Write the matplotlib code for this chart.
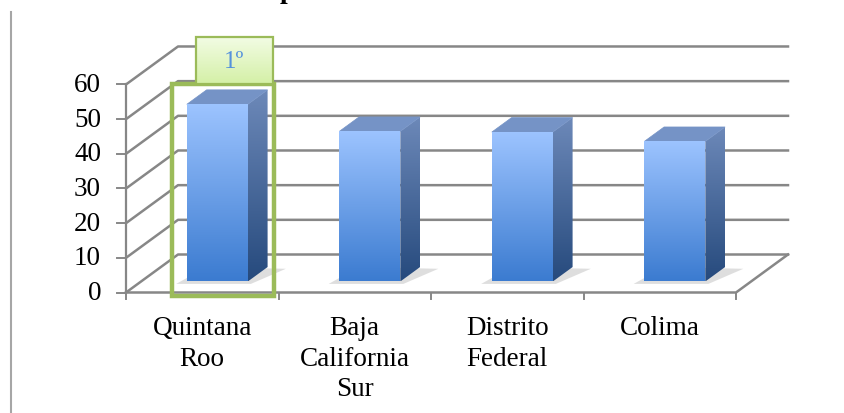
import numpy as np
import matplotlib
matplotlib.use("Agg")
import matplotlib.pyplot as plt
from matplotlib.patches import Polygon, Rectangle
from matplotlib.colors import LinearSegmentedColormap

# data
categories = ["Quintana\nRoo", "Baja\nCalifornia\nSur", "Distrito\nFederal", "Colima"]
values = [51.1, 43.3, 43.1, 40.4]
y_ticks = [0, 10, 20, 30, 40, 50, 60]
rank_label = "1\u00ba"
title_text = "p"   # only the bottom of the title shows in the picture

# layout (pixels of an 844x414 canvas)
W, H = 844, 414
X0, CAT_W = 126, 152.5          # x of the front axis, width of one category
Y0, UNIT = 293.5, 3.467         # y of value 0 (from top), pixels per unit
DX, DY = 52 / CAT_W, 38 / UNIT  # depth of the floor, in data units
BW, T0, BD = 0.40, 0.29, 0.38   # bar width, bar front depth, bar depth
GRID = "#878787"
SERIF = "Liberation Serif"

fig = plt.figure(figsize=(W / 100, H / 100), dpi=100)
ax = fig.add_axes([0, 0, 1, 1])
ax.axis("off")


def px(x):
    return (x - X0) / CAT_W


def py(y):
    return (Y0 - y) / UNIT


def grad_fill(pts, top, bottom, z):
    pts = np.asarray(pts)
    poly = Polygon(pts, closed=True, facecolor="none", edgecolor="none")
    ax.add_patch(poly)
    cmap = LinearSegmentedColormap.from_list("g", [bottom, top])
    im = ax.imshow(np.linspace(0, 1, 256).reshape(-1, 1), cmap=cmap,
                   extent=[pts[:, 0].min(), pts[:, 0].max(), pts[:, 1].min(), pts[:, 1].max()],
                   origin="lower", aspect="auto", zorder=z, interpolation="bilinear")
    im.set_clip_path(poly)


n = len(categories)
top_v = y_ticks[-1]

# walls and floor
ax.plot([0, 0], [0, top_v], color=GRID, lw=1.6, zorder=1)
for v in y_ticks:
    ax.plot([0, DX, n + DX], [v, v + DY, v + DY], color=GRID, lw=1.8, zorder=1)
    ax.plot([-9 / CAT_W, 0], [v, v], color=GRID, lw=1.4, zorder=1)
    ax.text(-25 / CAT_W, v, str(v), ha="right", va="center", fontsize=19.5,
            family=SERIF, color="black")
ax.plot([0, n, n + DX], [0, 0, DY], color=GRID, lw=1.8, zorder=5)
for i in range(n + 1):
    ax.plot([i, i], [0, -6 / UNIT], color=GRID, lw=1.4, zorder=5)

# bars
for i, v in enumerate(values):
    xl = i + 0.5 - BW / 2 + T0 * DX
    yb = T0 * DY
    dx, dy = BD * DX, BD * DY
    shadow = [(xl - 0.07, yb - 0.7), (xl + BW + 0.02, yb - 0.7),
              (xl + BW + dx + 0.12, yb + dy - 0.5), (xl + dx, yb + dy)]
    ax.add_patch(Polygon(shadow, closed=True, facecolor="#c4c4c4", edgecolor="none",
                         alpha=0.55, zorder=2))
    grad_fill([(xl + BW, yb), (xl + BW + dx, yb + dy), (xl + BW + dx, yb + dy + v), (xl + BW, yb + v)],
              "#6d89b9", "#264a7d", 3)
    ax.add_patch(Polygon([(xl, yb + v), (xl + BW, yb + v), (xl + BW + dx, yb + v + dy), (xl + dx, yb + v + dy)],
                         closed=True, facecolor="#7593c6", edgecolor="#7593c6", lw=0.5, zorder=3))
    grad_fill([(xl, yb), (xl + BW, yb), (xl + BW, yb + v), (xl, yb + v)],
              "#9dc4ff", "#3b7bd0", 4)
    ax.text(i + 0.5, py(316), categories[i], ha="center", va="top", fontsize=19.5,
            family=SERIF, linespacing=1.3, color="black")

# highlight of the first place
ax.add_patch(Rectangle((px(172), py(297)), px(274) - px(172), py(85) - py(297), fill=False,
                       edgecolor="#9bbb59", lw=3.2, zorder=6))
bx0, bx1, by0, by1 = px(196), px(273), py(85), py(38)
grad_fill([(bx0, by0), (bx1, by0), (bx1, by1), (bx0, by1)], "#f2fce4", "#d4f0a6", 7)
ax.add_patch(Rectangle((bx0, by0), bx1 - bx0, by1 - by0, fill=False,
                       edgecolor="#9bbb59", lw=1.6, zorder=8))
ax.text((bx0 + bx1) / 2, (by0 + by1) / 2, rank_label, ha="center", va="center",
        fontsize=18, family=SERIF, color="#5592dc", zorder=9)

# left border line and clipped title
ax.plot([px(11)] * 2, [py(13), py(H)], color="#a6a6a6", lw=1.5)
ax.text(px(287), py(-2), title_text, ha="center", va="baseline",
        fontsize=20, family=SERIF, weight="bold", color="black")

ax.set_xlim(px(0), px(W))
ax.set_ylim(py(H), py(0))
fig.savefig("out.png", dpi=100)
